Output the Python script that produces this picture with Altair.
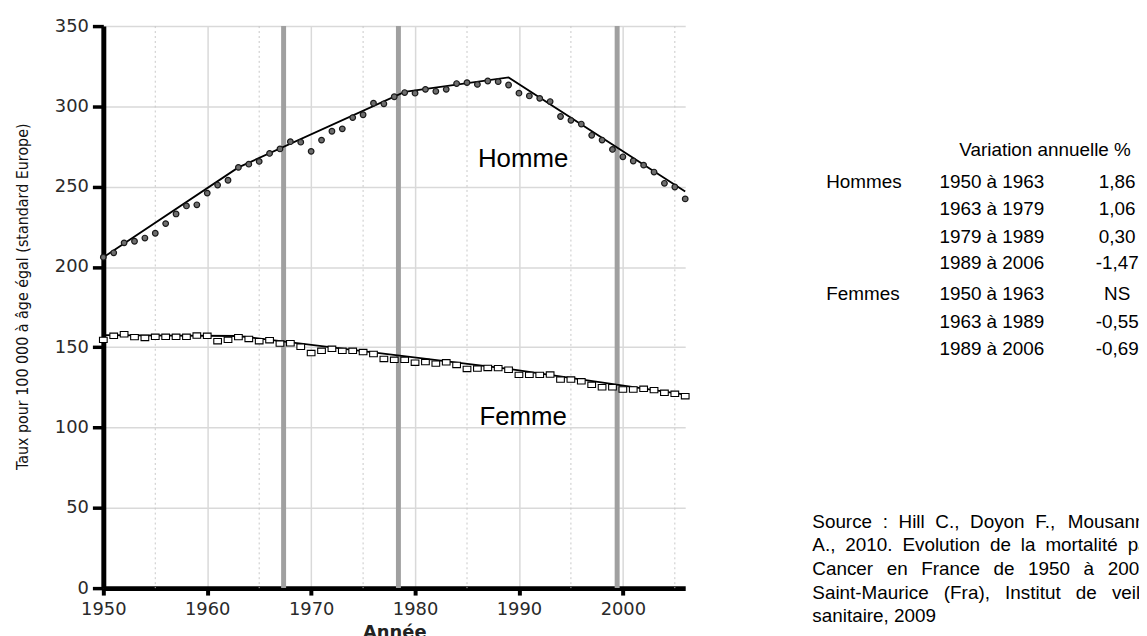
import altair as alt
import pandas as pd

# ---------------- data ----------------
years = list(range(1950, 2007))
homme = [206.1, 208.8, 215, 216, 218, 221, 227, 233, 238, 238.7,
         246, 251, 254, 262, 264, 265.7, 270.7, 273.5, 278, 277.7,
         272, 279, 284.5, 286, 293, 294.8, 302, 301.6, 306, 308.6,
         308.2, 310.6, 309.4, 310.6, 314.2, 314.8, 313.7, 315.8, 315.4, 313.3,
         308.2, 306.5, 305, 303, 293.7, 291.3, 289, 282, 279, 273.2,
         268.6, 266, 263.4, 259.1, 252.1, 249.8, 242.4]
femme = [154.6, 157.1, 158.1, 156.3, 155.8, 156.5, 156.5, 156.5, 156.5, 157.3,
         157.1, 153.8, 154.6, 156.3, 155.2, 153.8, 154.4, 152.3, 152.5, 150.3,
         146.4, 147.8, 149, 147.8, 147.8, 147, 145.8, 142.7, 142.2, 142.2,
         140.4, 140.8, 139.8, 140.6, 139, 136.5, 136.7, 137.1, 137, 136,
         132.8, 132.8, 132.8, 133, 129.9, 129.9, 128.8, 126.6, 125.1, 125.1,
         123.7, 123.7, 124.1, 123.3, 121.6, 121, 119.5]

trend_h_years = [1950, 1963, 1979, 1989, 2006]
trend_h_values = [206, 262, 309, 318, 247]
trend_f_years = [1950, 1963, 1989, 2006]
trend_f_values = [157.5, 157, 136.5, 120.5]

minor_grid_years = [1955, 1965, 1975, 1985, 1995, 2005]
marker_years = [1967.35, 1978.4, 1999.45]

x_ticks = [1950, 1960, 1970, 1980, 1990, 2000]
y_ticks = [0, 50, 100, 150, 200, 250, 300, 350]

series_labels = ["Homme", "Femme"]
series_label_years = [1990.4, 1990.4]
series_label_values = [267, 106.5]

table_header = "Variation annuelle %"
groups = ["Hommes", "Femmes"]
periods_h = ["1950 à 1963", "1963 à 1979", "1979 à 1989", "1989 à 2006"]
variation_h = ["1,86", "1,06", "0,30", "-1,47"]
periods_f = ["1950 à 1963", "1963 à 1989", "1989 à 2006"]
variation_f = ["NS", "-0,55", "-0,69"]

source_lines = [
    "Source : Hill C., Doyon F., Mousannif",
    "A., 2010. Evolution de la mortalité par",
    "Cancer en France de 1950 à 2006.",
    "Saint-Maurice (Fra), Institut de veille",
    "sanitaire, 2009",
]

# ---------------- frames ----------------
df_h = pd.DataFrame({"year": years, "value": homme})
df_f = pd.DataFrame({"year": years, "value": femme})
df_th = pd.DataFrame({"year": trend_h_years, "value": trend_h_values})
df_tf = pd.DataFrame({"year": trend_f_years, "value": trend_f_values})
df_minor = pd.DataFrame({"year": minor_grid_years})
df_mark = pd.DataFrame({"year": marker_years})
df_lab = pd.DataFrame({"year": series_label_years, "value": series_label_values,
                       "label": series_labels})

W, H = 586, 566
LEFT, TOP = 96, 16
TOTAL_W, TOTAL_H = 1139, 628

xscale = alt.Scale(domain=[1950, 2006], nice=False, zero=False)
yscale = alt.Scale(domain=[0, 350], nice=False, zero=True)

xaxis = alt.Axis(values=x_ticks, format="d", title="Année", grid=True,
                 gridColor="#d9d9d9", gridWidth=1.5,
                 domainColor="black", domainWidth=5,
                 tickColor="black", tickWidth=4, tickSize=7,
                 labelFont="DejaVu Sans", labelFontSize=18, labelColor="#2a2a2a",
                 labelPadding=6, labelFlush=False, labelOverlap=False,
                 titleFont="DejaVu Sans", titleFontSize=18, titleFontWeight="bold",
                 titleColor="#222222", titleBaseline="top", titleY=36)
yaxis = alt.Axis(values=y_ticks, title="Taux pour 100 000 à âge égal (standard Europe)",
                 grid=True, gridColor="#d9d9d9", gridWidth=1.5,
                 domainColor="black", domainWidth=5,
                 tickColor="black", tickWidth=3.5, tickSize=11,
                 labelFont="DejaVu Sans", labelFontSize=18, labelColor="#2a2a2a",
                 labelPadding=4, labelOverlap=False,
                 titleFont="DejaVu Sans Condensed, Liberation Sans", titleFontSize=16,
                 titleFontWeight="normal", titleColor="#111111",
                 titleAngle=270, titleAlign="center", titleBaseline="middle",
                 titleX=-81, titleY=272)

X = alt.X("year:Q", scale=xscale, axis=xaxis)
Y = alt.Y("value:Q", scale=yscale, axis=yaxis)

minor = alt.Chart(df_minor).mark_rule(color="#c8c8c8", strokeWidth=1,
                                      strokeDash=[2, 3]).encode(x=X)
bars = alt.Chart(df_mark).mark_rule(color="#a0a0a0", strokeWidth=5).encode(x=X)
line_h = alt.Chart(df_th).mark_line(color="black", strokeWidth=1.8).encode(x=X, y=Y)
line_f = alt.Chart(df_tf).mark_line(color="black", strokeWidth=1.8).encode(x=X, y=Y)
pts_h = alt.Chart(df_h).mark_point(shape="circle", filled=True, fill="#6e6e6e",
                                   stroke="#1a1a1a", strokeWidth=1.2, size=32,
                                   opacity=1).encode(x=X, y=Y)
pts_f = alt.Chart(df_f).mark_point(shape="M-1,-0.7L1,-0.7L1,0.7L-1,0.7Z",
                                   filled=True, fill="white", stroke="black",
                                   strokeWidth=1.1, size=60, opacity=1).encode(x=X, y=Y)
labels = alt.Chart(df_lab).mark_text(font="Liberation Sans", fontSize=26,
                                     color="black", align="center",
                                     baseline="middle").encode(x=X, y=Y, text="label:N")

layers = [minor, bars, line_h, line_f, pts_h, pts_f, labels]

FONT_SIZE = 19


def txt(s, px, py, align="left", size=FONT_SIZE):
    # px, py: page pixel positions, converted to plot-area coordinates
    return alt.Chart(pd.DataFrame({"t": [s]})).mark_text(
        font="Liberation Sans", fontSize=size, color="black",
        align=align, baseline="middle").encode(
        text="t:N", x=alt.value(px - LEFT - 8), y=alt.value(py - TOP - 8))


# Arial / Liberation Sans advance widths (1/1000 em) used to justify the source text
ADV = {" ": 278, "(": 333, ")": 333, ",": 278, "-": 333, ".": 278, ":": 278,
       "A": 667, "C": 722, "D": 722, "E": 667, "F": 611, "H": 722, "I": 278,
       "M": 833, "S": 667, "a": 556, "c": 500, "d": 556, "e": 556, "f": 278,
       "i": 222, "l": 222, "m": 833, "n": 556, "o": 556, "p": 556, "r": 333,
       "s": 500, "t": 278, "u": 556, "v": 500, "y": 500, "é": 556, "à": 556}


def text_width(s, size=FONT_SIZE):
    return sum(ADV.get(c, 556) for c in s) * size / 1000.0


# table at the right
col_group, col_period, col_value = 832, 946, 1125
layers.append(txt(table_header, 966, 149))
row_h = [181, 208, 236, 263]
row_f = [294, 322, 349]
layers.append(txt(groups[0], col_group, row_h[0]))
for p, v, ry in zip(periods_h, variation_h, row_h):
    layers.append(txt(p, col_period, ry))
    layers.append(txt(v, col_value, ry, align="center"))
layers.append(txt(groups[1], col_group, row_f[0]))
for p, v, ry in zip(periods_f, variation_f, row_f):
    layers.append(txt(p, col_period, ry))
    layers.append(txt(v, col_value, ry, align="center"))

# justified source paragraph
src_x0, src_width = 818, 345
src_y = [523, 547, 571, 595, 618]
for i, (s, sy) in enumerate(zip(source_lines, src_y)):
    words = s.split(" ")
    last = i == len(source_lines) - 1
    if last or len(words) == 1:
        layers.append(txt(s, src_x0, sy))
        continue
    natural = sum(text_width(w) for w in words)
    gap = (src_width - natural) / (len(words) - 1)
    xpos = src_x0
    for w in words:
        layers.append(txt(w, xpos, sy))
        xpos += text_width(w) + gap

chart = alt.layer(*layers).properties(
    width=W, height=H,
    autosize=alt.AutoSizeParams(type="none"),
    padding={"left": LEFT, "top": TOP,
             "right": TOTAL_W - LEFT - W, "bottom": TOTAL_H - TOP - H},
).configure_view(stroke=None)

chart.save("out.html", embed_options={"renderer": "svg", "actions": False})
